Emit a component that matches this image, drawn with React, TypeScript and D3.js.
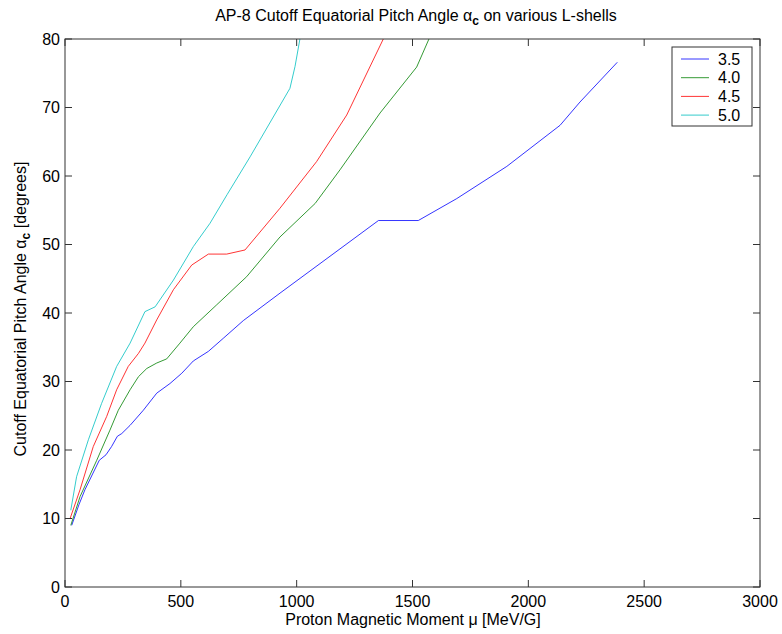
import React from "react";
import * as d3 from "d3";

const xTicks = [0, 500, 1000, 1500, 2000, 2500, 3000];
const yTicks = [0, 10, 20, 30, 40, 50, 60, 70, 80];
const seriesNames = ["3.5", "4.0", "4.5", "5.0"];
const seriesColors = ["#0000ff", "#008000", "#ff0000", "#00bfbf"];

const l35: [number, number][] = [[29,9],[60,12],[86,14.2],[148,18.5],[177,19.3],[201,20.5],[226,22],[245,22.4],[281,23.6],[338,25.8],[396,28.3],[453,29.7],[504,31.2],[554,33],[619,34.4],[683,36.3],[770,38.9],[928,42.9],[1353,53.5],[1525,53.5],[1691,56.7],[1907,61.4],[2137,67.4],[2223,70.8],[2384,76.6]];
const l40: [number, number][] = [[25,9],[65,13.2],[137,18.5],[194,22.9],[230,25.8],[281,28.8],[317,30.7],[353,31.9],[396,32.7],[439,33.3],[496,35.6],[554,38],[655,41.2],[784,45.3],[928,51.1],[1080,56],[1187,60.9],[1360,69.2],[1518,75.9],[1571,80]];
const l45: [number, number][] = [[22,10],[65,14.2],[122,20.5],[180,24.9],[223,28.8],[273,32.2],[317,34.1],[345,35.6],[396,39],[468,43.4],[547,47],[619,48.6],[698,48.6],[777,49.2],[928,55.3],[1086,62.1],[1216,68.9],[1374,80]];
const l50: [number, number][] = [[25,11.2],[50,16.1],[101,21.5],[158,26.8],[223,32.2],[281,35.6],[345,40.2],[389,40.9],[468,44.8],[554,49.7],[626,53.1],[700,57.3],[799,62.8],[971,72.8],[993,76],[1014,80]];
const seriesData = [l35, l40, l45, l50];

export default function App() {
  const W = 782, H = 634;
  const left = 65, right = 760, top = 39, bottom = 587;
  const x = d3.scaleLinear().domain([0, 3000]).range([left, right]);
  const y = d3.scaleLinear().domain([0, 80]).range([bottom, top]);
  const line = d3.line<[number, number]>().x(d => x(d[0])).y(d => y(d[1]));
  const font = "Liberation Sans, Arial, sans-serif";
  const axisColor = "#333";
  const tl = 7;
  return (
    <svg width={W} height={H} style={{ position: "absolute", left: 0, top: 0, background: "#fff" }} fontFamily={font}>
      <rect x={0} y={0} width={W} height={H} fill="#fff" />
      <defs>
        <clipPath id="plotclip"><rect x={left} y={top} width={right - left} height={bottom - top} /></clipPath>
      </defs>
      <g clipPath="url(#plotclip)">
        {seriesData.map((s, i) => (
          <path key={i} d={line(s) || ""} fill="none" stroke={seriesColors[i]} strokeWidth={0.8} />
        ))}
      </g>
      <rect x={left} y={top} width={right - left} height={bottom - top} fill="none" stroke={axisColor} strokeWidth={1} />
      {xTicks.map(t => (
        <g key={"x" + t}>
          <line x1={x(t)} x2={x(t)} y1={bottom} y2={bottom - tl} stroke={axisColor} />
          <line x1={x(t)} x2={x(t)} y1={top} y2={top + tl} stroke={axisColor} />
          <text x={x(t)} y={607} textAnchor="middle" fontSize={16} fill="#000">{t}</text>
        </g>
      ))}
      {yTicks.map(t => (
        <g key={"y" + t}>
          <line x1={left} x2={left + tl} y1={y(t)} y2={y(t)} stroke={axisColor} />
          <line x1={right} x2={right - tl} y1={y(t)} y2={y(t)} stroke={axisColor} />
          <text x={left - 5} y={y(t) + 5.5} textAnchor="end" fontSize={16} fill="#000">{t}</text>
        </g>
      ))}
      <text x={416} y={21} textAnchor="middle" fontSize={16} fill="#000">
        AP-8 Cutoff Equatorial Pitch Angle α<tspan fontSize={12} fontWeight="bold" dy={4}>c</tspan><tspan dy={-4}> on various L-shells</tspan>
      </text>
      <text x={413} y={625} textAnchor="middle" fontSize={16} fill="#000">Proton Magnetic Moment μ [MeV/G]</text>
      <text transform={`translate(26, 309) rotate(-90)`} textAnchor="middle" fontSize={16} fill="#000">
        Cutoff Equatorial Pitch Angle α<tspan fontSize={12} fontWeight="bold" dy={4}>c</tspan><tspan dy={-4}> [degrees]</tspan>
      </text>
      <rect x={672} y={47} width={80} height={79} fill="#fff" stroke={axisColor} strokeWidth={1} />
      {seriesNames.map((n, i) => (
        <g key={n}>
          <line x1={681} x2={709} y1={59 + i * 18.7} y2={59 + i * 18.7} stroke={seriesColors[i]} strokeWidth={0.8} />
          <text x={718} y={59 + i * 18.7 + 5.5} fontSize={16} fill="#000">{n}</text>
        </g>
      ))}
    </svg>
  );
}
